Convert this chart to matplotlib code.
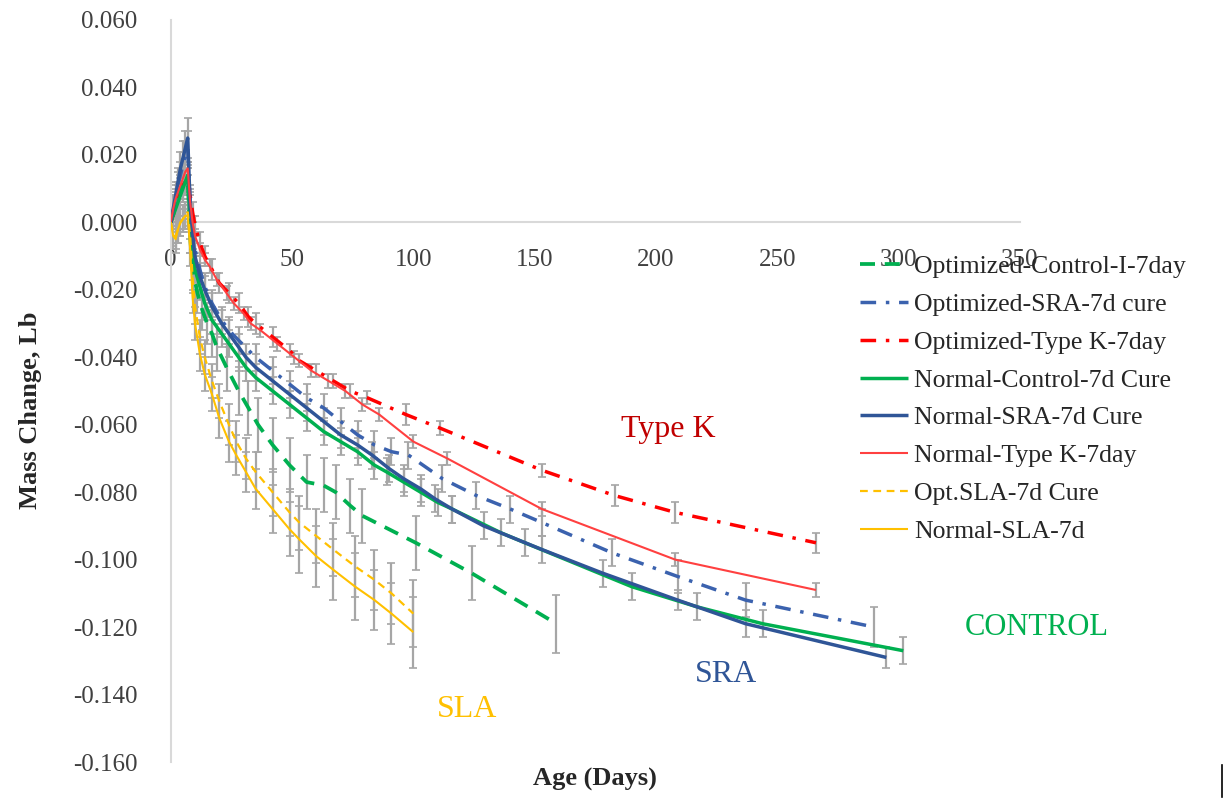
import matplotlib
matplotlib.use("Agg")
import matplotlib.pyplot as plt
from matplotlib.lines import Line2D

plt.rcParams['font.family'] = ['Liberation Serif', 'DejaVu Serif']

# ---------------- data ----------------
opt_control_days = [0, 1, 2, 3, 4, 5, 6, 7, 8, 9, 11, 13, 15, 17, 19, 23, 28, 32, 36, 42, 49, 56, 63, 68, 74, 79, 101, 124, 159]
opt_control_vals = [0.000, 0.003, 0.006, 0.008, 0.010, 0.011, 0.012, 0.012, -0.004, -0.014, -0.021, -0.026, -0.030,
                    -0.033, -0.037, -0.043, -0.050, -0.055, -0.060, -0.066, -0.072, -0.077, -0.078, -0.080, -0.084,
                    -0.087, -0.095, -0.104, -0.119]
opt_control_err = [0.004, 0.004, 0.004, 0.004, 0.004, 0.004, 0.004, 0.004, 0.005, 0.006, 0.006, 0.006, 0.006,
                   0.007, 0.007, 0.007, 0.007, 0.008, 0.008, 0.008, 0.008, 0.008, 0.008, 0.008, 0.008,
                   0.008, 0.008, 0.008, 0.0086]

opt_sra_days = [0, 1, 2, 3, 4, 5, 6, 7, 8, 9, 10, 12, 14, 17, 21, 24, 28, 35, 42, 49, 56, 63, 70, 77, 84, 91, 98,
                112, 126, 140, 153, 182, 209, 237, 290]
opt_sra_vals = [0.000, 0.003, 0.007, 0.011, 0.014, 0.017, 0.020, 0.022, 0.006, -0.002, -0.008, -0.014, -0.019,
                -0.024, -0.029, -0.032, -0.035, -0.040, -0.044, -0.048, -0.052, -0.055, -0.059, -0.063, -0.066,
                -0.068, -0.069, -0.076, -0.081, -0.085, -0.089, -0.098, -0.105, -0.112, -0.120]
opt_sra_err = [0.004, 0.004, 0.004, 0.004, 0.004, 0.004, 0.004, 0.005, 0.004, 0.004, 0.004, 0.004, 0.004,
               0.004, 0.004, 0.004, 0.004, 0.004, 0.004, 0.004, 0.004, 0.004, 0.004, 0.004, 0.004,
               0.004, 0.004, 0.004, 0.004, 0.004, 0.004, 0.004, 0.005, 0.005, 0.006]

opt_typek_days = [0, 1, 2, 3, 4, 5, 6, 7, 8, 9, 10, 12, 14, 17, 20, 24, 28, 32, 35, 42, 49, 53, 60, 67, 74, 81, 97,
                  111, 153, 183, 208, 266]
opt_typek_vals = [0.000, 0.002, 0.005, 0.007, 0.009, 0.011, 0.012, 0.013, 0.008, 0.003, -0.001, -0.006, -0.010,
                  -0.014, -0.018, -0.021, -0.024, -0.028, -0.030, -0.034, -0.038, -0.041, -0.044, -0.047, -0.050,
                  -0.052, -0.057, -0.061, -0.0735, -0.081, -0.086, -0.095]
opt_typek_err = [0.003, 0.003, 0.003, 0.003, 0.003, 0.003, 0.003, 0.003, 0.003, 0.003, 0.003, 0.003, 0.003,
                 0.003, 0.003, 0.003, 0.003, 0.003, 0.003, 0.003, 0.002, 0.002, 0.002, 0.002, 0.002,
                 0.002, 0.003, 0.002, 0.002, 0.003, 0.003, 0.003]

norm_control_days = [0, 1, 2, 3, 4, 5, 6, 7, 8, 9, 10, 12, 14, 17, 21, 24, 28, 31, 35, 42, 49, 56, 63, 70, 77, 84,
                     89, 96, 103, 110, 116, 136, 146, 190, 217, 244, 302]
norm_control_vals = [0.000, 0.002, 0.004, 0.006, 0.008, 0.010, 0.012, 0.014, -0.001, -0.008, -0.014, -0.019,
                     -0.024, -0.029, -0.033, -0.036, -0.040, -0.043, -0.046, -0.050, -0.054, -0.058, -0.062,
                     -0.065, -0.068, -0.072, -0.074, -0.077, -0.080, -0.083, -0.085, -0.092, -0.095, -0.108,
                     -0.114, -0.119, -0.127]
norm_control_err = [0.004, 0.004, 0.004, 0.004, 0.004, 0.004, 0.004, 0.004, 0.004, 0.004, 0.004, 0.004, 0.004,
                    0.004, 0.004, 0.004, 0.004, 0.004, 0.004, 0.004, 0.004, 0.004, 0.004, 0.004, 0.004, 0.004,
                    0.004, 0.004, 0.004, 0.004, 0.004, 0.004, 0.004, 0.004, 0.004, 0.004, 0.004]

norm_sra_days = [0, 1, 2, 3, 4, 5, 6, 7, 8, 9, 10, 12, 14, 17, 21, 24, 28, 31, 35, 42, 49, 56, 63, 70, 77, 83, 90,
                 96, 103, 109, 116, 129, 153, 178, 209, 237, 295]
norm_sra_vals = [0.000, 0.004, 0.008, 0.012, 0.016, 0.019, 0.022, 0.025, 0.005, -0.004, -0.010, -0.016, -0.020,
                 -0.025, -0.030, -0.033, -0.037, -0.040, -0.043, -0.047, -0.051, -0.055, -0.059, -0.063, -0.066,
                 -0.069, -0.073, -0.076, -0.079, -0.082, -0.085, -0.090, -0.097, -0.104, -0.112, -0.119, -0.129]
norm_sra_err = [0.004, 0.004, 0.004, 0.004, 0.005, 0.005, 0.005, 0.006, 0.004, 0.004, 0.004, 0.004, 0.004,
                0.004, 0.004, 0.004, 0.004, 0.004, 0.004, 0.004, 0.004, 0.004, 0.004, 0.004, 0.004, 0.004,
                0.004, 0.004, 0.004, 0.004, 0.004, 0.004, 0.004, 0.004, 0.003, 0.004, 0.003]

norm_typek_days = [0, 1, 2, 3, 4, 5, 6, 7, 8, 9, 10, 12, 14, 16, 19, 23, 26, 30, 33, 37, 44, 51, 58, 65, 72, 79,
                   86, 100, 114, 153, 208, 266]
norm_typek_vals = [0.000, 0.004, 0.007, 0.009, 0.011, 0.013, 0.015, 0.016, 0.006, 0.000, -0.004, -0.008, -0.011,
                   -0.013, -0.017, -0.021, -0.024, -0.027, -0.030, -0.032, -0.036, -0.040, -0.044, -0.047,
                   -0.050, -0.054, -0.057, -0.065, -0.070, -0.085, -0.100, -0.109]
norm_typek_err = [0.002, 0.002, 0.002, 0.002, 0.002, 0.002, 0.002, 0.002, 0.002, 0.002, 0.002, 0.002, 0.002,
                  0.002, 0.002, 0.002, 0.002, 0.002, 0.002, 0.002, 0.002, 0.002, 0.002, 0.002, 0.002, 0.002,
                  0.002, 0.002, 0.002, 0.002, 0.002, 0.002]

opt_sla_days = [0, 1, 2, 3, 4, 5, 6, 7, 8, 9, 10, 12, 14, 17, 20, 24, 27, 31, 35, 42, 49, 53, 60, 67, 76, 84, 91, 100]
opt_sla_vals = [0.000, -0.003, -0.004, -0.002, 0.000, 0.001, 0.002, 0.003, -0.004, -0.016, -0.025, -0.034, -0.040,
                -0.047, -0.053, -0.060, -0.065, -0.070, -0.074, -0.080, -0.086, -0.089, -0.093, -0.097, -0.102,
                -0.106, -0.110, -0.116]
opt_sla_err = [0.004, 0.004, 0.004, 0.004, 0.004, 0.004, 0.004, 0.004, 0.005, 0.005, 0.005, 0.005, 0.005,
               0.005, 0.005, 0.006, 0.006, 0.006, 0.006, 0.007, 0.007, 0.008, 0.008, 0.008, 0.009, 0.009,
               0.009, 0.010]

norm_sla_days = [0, 1, 2, 3, 4, 5, 6, 7, 8, 9, 10, 12, 14, 17, 20, 24, 27, 31, 35, 42, 49, 53, 60, 67, 76, 84, 91, 100]
norm_sla_vals = [0.000, -0.004, -0.005, -0.002, 0.000, 0.001, 0.002, 0.002, -0.008, -0.022, -0.030, -0.039, -0.045,
                 -0.051, -0.058, -0.065, -0.069, -0.074, -0.079, -0.085, -0.091, -0.094, -0.099, -0.103, -0.108,
                 -0.112, -0.116, -0.1215]
norm_sla_err = [0.004, 0.004, 0.004, 0.004, 0.004, 0.004, 0.004, 0.004, 0.005, 0.005, 0.005, 0.005, 0.005,
                0.005, 0.006, 0.006, 0.006, 0.006, 0.006, 0.007, 0.008, 0.010, 0.009, 0.009, 0.010, 0.009,
                0.009, 0.0105]

legend_labels = ["Optimized-Control-I-7day", "Optimized-SRA-7d cure", "Optimized-Type K-7day",
                 "Normal-Control-7d Cure", "Normal-SRA-7d Cure", "Normal-Type K-7day",
                 "Opt.SLA-7d Cure", "Normal-SLA-7d"]

x_ticks = [0, 50, 100, 150, 200, 250, 300, 350]
y_ticks = [0.060, 0.040, 0.020, 0.000, -0.020, -0.040, -0.060, -0.080, -0.100, -0.120, -0.140, -0.160]

# ---------------- styles ----------------
GREEN = '#00B050'
BLUE = '#2F5597'
BLUE2 = '#3B62AE'
RED = '#FF0000'
RED2 = '#FF4040'
YEL = '#FFC000'
series = [
    (opt_control_days, opt_control_vals, opt_control_err, dict(color=GREEN, lw=2.7, dashes=(4.0, 2.6))),
    (opt_sra_days, opt_sra_vals, opt_sra_err, dict(color=BLUE2, lw=2.5, dashes=(4.5, 2.8, 1.0, 2.8))),
    (opt_typek_days, opt_typek_vals, opt_typek_err, dict(color=RED, lw=2.5, dashes=(4.5, 2.8, 1.0, 2.8))),
    (norm_control_days, norm_control_vals, norm_control_err, dict(color=GREEN, lw=2.5, ls='-')),
    (norm_sra_days, norm_sra_vals, norm_sra_err, dict(color=BLUE, lw=2.5, ls='-')),
    (norm_typek_days, norm_typek_vals, norm_typek_err, dict(color=RED2, lw=1.5, ls='-')),
    (opt_sla_days, opt_sla_vals, opt_sla_err, dict(color=YEL, lw=1.6, dashes=(3.5, 2.5))),
    (norm_sla_days, norm_sla_vals, norm_sla_err, dict(color=YEL, lw=1.5, ls='-')),
]

fig = plt.figure(figsize=(12.24, 7.99), dpi=100)
ax = fig.add_axes([0.1395, 0.0463, 0.6936, 0.9287])

handles = []
for (d, v, e, st), lab in zip(series, legend_labels):
    ax.errorbar(d, v, yerr=e, fmt='none', ecolor='#A6A6A6', elinewidth=1.6, capsize=3.2,
                capthick=1.2, zorder=2)
    h, = ax.plot(d, v, label=lab, zorder=3, solid_capstyle='butt', dash_capstyle='butt', **st)
    handles.append(h)

ax.set_xlim(0, 350)
ax.set_ylim(-0.160, 0.060)
ax.set_xticks(x_ticks)
ax.set_yticks(y_ticks)
ax.set_xticklabels([str(t) for t in x_ticks])
ax.set_yticklabels(['%.3f' % t for t in y_ticks])
ax.tick_params(axis='both', length=0, labelsize=18, labelcolor='#404040')
ax.tick_params(axis='y', pad=24)
ax.tick_params(axis='x', pad=19)

for s in ['top', 'right']:
    ax.spines[s].set_visible(False)
ax.spines['bottom'].set_position(('data', 0))
for s in ['left', 'bottom']:
    ax.spines[s].set_color('#D9D9D9')
    ax.spines[s].set_linewidth(1.5)
ax.spines['bottom'].set_zorder(0.5)

leg = fig.legend(handles=handles, labels=legend_labels, loc='upper left',
                 bbox_to_anchor=(0.703, 0.681), frameon=False, fontsize=18.5,
                 handlelength=1.85, handletextpad=0.25, labelspacing=0.58, borderpad=0,
                 borderaxespad=0)
for t in leg.get_texts():
    t.set_color('#262626')

ax.text(205, -0.0615, 'Type K', color='#C00000', fontsize=23, ha='center', va='center')
ax.text(229, -0.134, 'SRA', color=BLUE, fontsize=23, ha='center', va='center')
ax.text(357, -0.120, 'CONTROL', color=GREEN, fontsize=22, ha='center', va='center', clip_on=False)
ax.text(122, -0.1445, 'SLA', color=YEL, fontsize=23, ha='center', va='center')

fig.text(0.486, 0.024, 'Age (Days)', fontsize=19, fontweight='bold', ha='center', va='center',
         color='#262626')
fig.text(0.025, 0.487, 'Mass Change, Lb', fontsize=19, fontweight='bold', ha='center', va='center',
         rotation=90, color='#262626')

fig.add_artist(Line2D([0.9984, 0.9984], [0.003, 0.043], color='black', lw=1.2))

fig.savefig('out.png', dpi=100)
